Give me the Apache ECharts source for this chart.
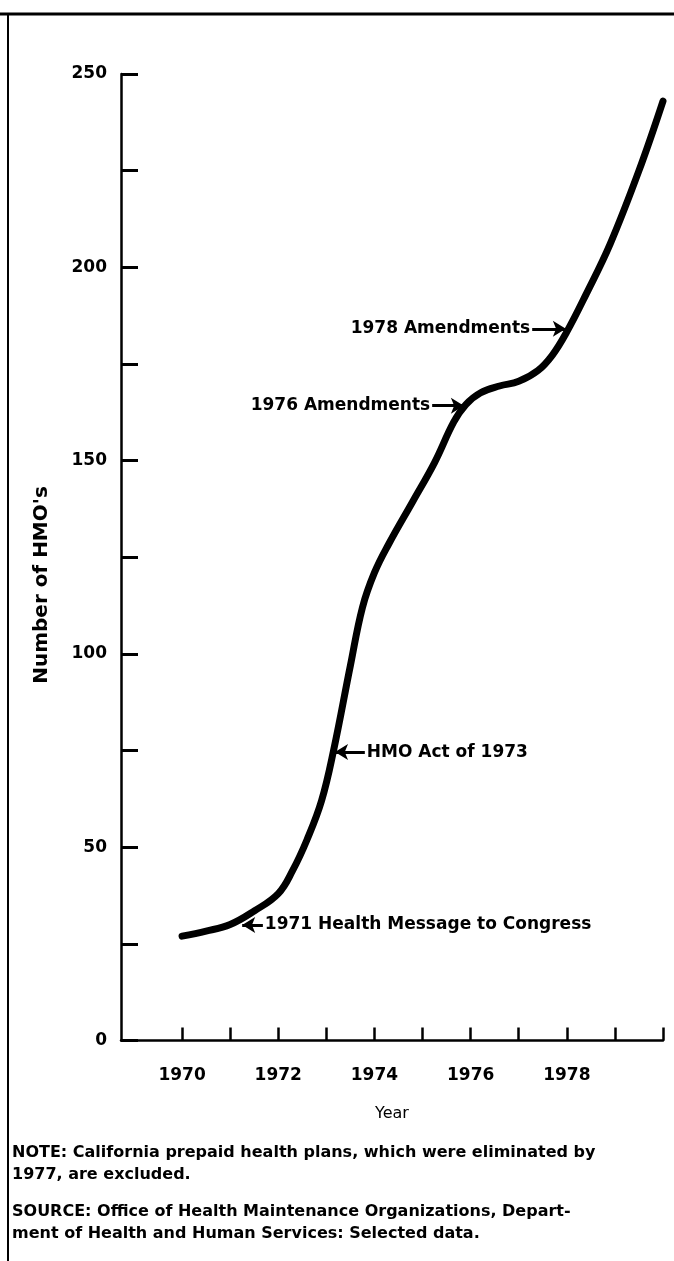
<!DOCTYPE html>
<html>
<head>
<meta charset="utf-8">
<title>Number of HMO's</title>
<script src="https://cdn.jsdelivr.net/npm/echarts@6.0.0/dist/echarts.min.js"></script>
<style>
  html, body {
    margin: 0;
    padding: 0;
    background: #fff;
  }

  .chart {
    width: 674px;
    height: 1261px;
  }
</style>
</head>
<body>
<div id="chart" class="chart"></div>
<script>
// 数据
const years = [1970, 1970.5, 1971, 1971.5, 1972, 1972.3, 1972.6, 1972.9, 1973.15, 1973.5, 1973.75, 1974,
  1974.3, 1974.8, 1975.25, 1975.65, 1975.9, 1976.2, 1976.6, 1977, 1977.4, 1977.7, 1978, 1978.4, 1978.9, 1979.5, 1980];
const hmos = [27, 28.3, 30, 33.5, 38, 44, 52, 62, 75, 97, 112, 121,
  128.5, 139.5, 149.5, 160, 164.5, 167.5, 169.3, 170.5, 173.3, 177.3, 183.3, 193, 206, 225, 243];

const xTicks = [1970, 1971, 1972, 1973, 1974, 1975, 1976, 1977, 1978, 1979, 1980];
const xLabels = [1970, 1972, 1974, 1976, 1978];
const yLabels = [0, 50, 100, 150, 200, 250];

// annotations: text, arrow tip (year, value), arrow tail year
const noteTexts = ['1971 Health Message to Congress', 'HMO Act of 1973', '1976 Amendments', '1978 Amendments'];
const noteTipYears = [1971.25, 1973.18, 1975.86, 1977.98];
const noteTipValues = [29.9, 74.6, 164.2, 184.1];
const noteTailYears = [1971.68, 1973.8, 1975.2, 1977.28];

const font = 'DejaVu Sans';

function drawChart() {
  const myChart = echarts.init(document.getElementById('chart'), null, { renderer: 'canvas' });

  const lineData = years.map((y, i) => [y, hmos[i]]);

  const arrows = noteTexts.map((t, i) => [
    {
      coord: [noteTailYears[i], noteTipValues[i]],
      label: { formatter: t },
    },
    { coord: [noteTipYears[i], noteTipValues[i]] },
  ]);

  myChart.setOption({
    animation: false,
    grid: {
      left: 121,
      right: 11,
      top: 74,
      bottom: 220.5,
    },
    xAxis: {
      type: 'value',
      min: 1968.73,
      max: 1980,
      name: 'Year',
      nameLocation: 'middle',
      nameGap: 65,
      nameTextStyle: {
        fontFamily: font,
        fontSize: 16,
        color: '#000',
      },
      axisLine: {
        lineStyle: { color: '#000', width: 2.5 },
      },
      axisTick: {
        inside: true,
        length: 13,
        customValues: xTicks,
        lineStyle: { color: '#000', width: 2.5 },
      },
      axisLabel: {
        customValues: xLabels,
        formatter: (v) => String(v),
        margin: 27,
        fontFamily: font,
        fontWeight: 'bold',
        fontSize: 17,
        color: '#000',
      },
      splitLine: { show: false },
    },
    yAxis: {
      type: 'value',
      min: 0,
      max: 250,
      interval: 25,
      axisLine: {
        show: true,
        lineStyle: { color: '#000', width: 2.5 },
      },
      axisTick: {
        inside: true,
        length: 17,
        lineStyle: { color: '#000', width: 3 },
      },
      axisLabel: {
        customValues: yLabels,
        margin: 14,
        fontFamily: font,
        fontWeight: 'bold',
        fontSize: 17,
        color: '#000',
      },
      splitLine: { show: false },
    },
    series: [
      {
        type: 'line',
        data: lineData,
        smooth: 0.4,
        showSymbol: false,
        lineStyle: { color: '#000', width: 7, cap: 'round' },
        markLine: {
          silent: true,
          symbol: ['none', 'arrow'],
          symbolSize: [12, 13],
          lineStyle: { color: '#000', width: 3, type: 'solid' },
          label: {
            show: true,
            position: 'start',
            distance: 2,
            fontFamily: font,
            fontWeight: 'bold',
            fontSize: 17,
            color: '#000',
          },
          data: arrows,
        },
      },
    ],
    graphic: [
      // frame
      { type: 'line', shape: { x1: 0, y1: 14, x2: 674, y2: 14 }, style: { stroke: '#000', lineWidth: 3 } },
      { type: 'line', shape: { x1: 8, y1: 14, x2: 8, y2: 1261 }, style: { stroke: '#000', lineWidth: 2 } },
      // y axis title
      {
        type: 'text',
        x: 42,
        y: 585,
        rotation: Math.PI / 2,
        style: {
          text: "Number of HMO's",
          x: 0,
          y: 0,
          align: 'center',
          verticalAlign: 'middle',
          font: 'bold 20px "DejaVu Sans"',
          fill: '#000',
        },
      },
      // notes
      {
        type: 'text',
        left: 12,
        top: 1142,
        style: {
          text: 'NOTE: California prepaid health plans, which were eliminated by\n1977, are excluded.',
          font: 'bold 16px "DejaVu Sans"',
          fill: '#000',
          lineHeight: 22,
        },
      },
      {
        type: 'text',
        left: 12,
        top: 1201,
        style: {
          text: 'SOURCE: Office of Health Maintenance Organizations, Depart-\nment of Health and Human Services: Selected data.',
          font: 'bold 16px "DejaVu Sans"',
          fill: '#000',
          lineHeight: 22,
        },
      },
    ],
  });
}

drawChart();
</script>
</body>
</html>
